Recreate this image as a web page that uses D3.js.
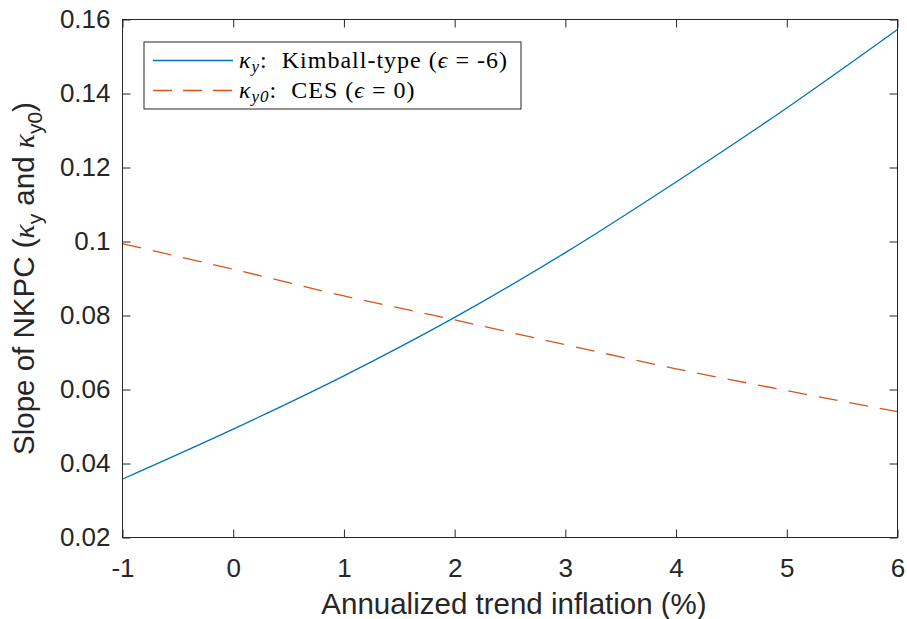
<!DOCTYPE html>
<html>
<head>
<meta charset="utf-8">
<script src="https://cdn.jsdelivr.net/npm/d3@7"></script>
<style>
  body { margin: 0; background: #fff; }
  svg { display: block; }
</style>
</head>
<body>
<div id="wrapper"></div>
<script>
// trend inflation (%) and NKPC slopes
const inflation = [-1, 0, 1, 2, 3, 4, 5, 6];
const kimball = [0.0358, 0.0493, 0.0637, 0.0795, 0.0970, 0.1161, 0.1361, 0.1573];
const ces = [0.0994, 0.0925, 0.0853, 0.0788, 0.0721, 0.0656, 0.0597, 0.0540];
const yTicks = [0.02, 0.04, 0.06, 0.08, 0.1, 0.12, 0.14, 0.16];

const W = 907, H = 619;
const margin = { top: 19.5, right: 9.5, bottom: 81.5, left: 122.5 };
const width = W - margin.left - margin.right;
const height = H - margin.top - margin.bottom;
const axisColor = `#262626`;
const tickLen = 8;
const sans = `"Liberation Sans", Arial, Helvetica, sans-serif`;
const serif = `"Liberation Serif", "Times New Roman", serif`;

const svg = d3.select(`#wrapper`)
  .append(`svg`)
  .attr(`width`, W)
  .attr(`height`, H)
  .append(`g`)
  .attr(`transform`, `translate(${margin.left}, ${margin.top})`);

const xScale = d3.scaleLinear().domain([-1, 6]).range([0, width]);
const yScale = d3.scaleLinear().domain([0.02, 0.16]).range([height, 0]);

// lines
const line = vals => d3.line()
  .x((d, i) => xScale(inflation[i]))
  .y(d => yScale(d))
  .curve(d3.curveMonotoneX)(vals);

svg.append(`path`)
  .attr(`d`, line(ces))
  .attr(`fill`, `none`)
  .attr(`stroke`, `#D95319`)
  .attr(`stroke-width`, 1.3)
  .attr(`stroke-dasharray`, `19,12`);

svg.append(`path`)
  .attr(`d`, line(kimball))
  .attr(`fill`, `none`)
  .attr(`stroke`, `#0072BD`)
  .attr(`stroke-width`, 1.3);

// axes (ticks inward, box on all sides)
const styleAxis = g => {
  g.select(`.domain`).remove();
  g.selectAll(`line`).attr(`stroke`, axisColor);
  g.selectAll(`text`)
    .attr(`fill`, axisColor)
    .style(`font-family`, sans)
    .style(`font-size`, `26px`);
};

svg.append(`g`)
  .attr(`transform`, `translate(0, ${height})`)
  .call(d3.axisBottom(xScale).tickValues(inflation).tickFormat(d => String(d))
    .tickSizeInner(-tickLen).tickSizeOuter(0).tickPadding(21))
  .call(styleAxis);

svg.append(`g`)
  .call(d3.axisTop(xScale).tickValues(inflation).tickFormat(``)
    .tickSizeInner(-tickLen).tickSizeOuter(0))
  .call(styleAxis);

svg.append(`g`)
  .call(d3.axisLeft(yScale).tickValues(yTicks).tickFormat(d => String(+d.toFixed(2)))
    .tickSizeInner(-tickLen).tickSizeOuter(0).tickPadding(12))
  .call(styleAxis);

svg.append(`g`)
  .attr(`transform`, `translate(${width}, 0)`)
  .call(d3.axisRight(yScale).tickValues(yTicks).tickFormat(``)
    .tickSizeInner(-tickLen).tickSizeOuter(0))
  .call(styleAxis);

svg.append(`rect`)
  .attr(`width`, width)
  .attr(`height`, height)
  .attr(`fill`, `none`)
  .attr(`stroke`, axisColor)
  .attr(`stroke-width`, 1);

// axis titles
svg.append(`text`)
  .attr(`x`, width / 2 + 4)
  .attr(`y`, height + 76)
  .attr(`text-anchor`, `middle`)
  .attr(`fill`, axisColor)
  .style(`font-family`, sans)
  .style(`font-size`, `29.5px`)
  .text(`Annualized trend inflation (%)`);

const yLab = svg.append(`text`)
  .attr(`transform`, `translate(${-89}, ${height / 2}) rotate(-90)`)
  .attr(`text-anchor`, `middle`)
  .attr(`fill`, axisColor)
  .style(`font-family`, sans)
  .style(`font-size`, `29.5px`);
yLab.append(`tspan`).text(`Slope of NKPC (`);
yLab.append(`tspan`).style(`font-family`, serif).style(`font-style`, `italic`).text(`κ`);
yLab.append(`tspan`).attr(`dy`, 8).style(`font-size`, `21px`).text(`y`);
yLab.append(`tspan`).attr(`dy`, -8).text(` and `);
yLab.append(`tspan`).style(`font-family`, serif).style(`font-style`, `italic`).text(`κ`);
yLab.append(`tspan`).attr(`dy`, 8).style(`font-size`, `21px`).text(`y0`);
yLab.append(`tspan`).attr(`dy`, -8).text(`)`);

// legend
const legend = svg.append(`g`)
  .attr(`transform`, `translate(${144 - margin.left}, ${42 - margin.top})`);

legend.append(`rect`)
  .attr(`width`, 377)
  .attr(`height`, 67)
  .attr(`fill`, `#fff`)
  .attr(`stroke`, axisColor)
  .attr(`stroke-width`, 1);

const entries = [
  { color: `#0072BD`, dash: null, sub: `y`, rest: `:  Kimball-type (`, eq: ` = -6)` },
  { color: `#D95319`, dash: `19,11`, sub: `y0`, rest: `:  CES (`, eq: ` = 0)` },
];

entries.forEach((e, i) => {
  const cy = 18.5 + i * 30;
  legend.append(`line`)
    .attr(`x1`, 9).attr(`x2`, 89)
    .attr(`y1`, cy).attr(`y2`, cy)
    .attr(`stroke`, e.color)
    .attr(`stroke-width`, 1.3)
    .attr(`stroke-dasharray`, e.dash);
  const t = legend.append(`text`)
    .attr(`x`, 95)
    .attr(`y`, cy + 7)
    .attr(`fill`, `#000`)
    .attr(`xml:space`, `preserve`)
    .style(`white-space`, `pre`)
    .style(`letter-spacing`, `1px`)
    .style(`font-family`, serif)
    .style(`font-size`, `24px`);
  t.append(`tspan`).style(`font-style`, `italic`).text(`κ`);
  t.append(`tspan`).attr(`dy`, 4).style(`font-size`, `17px`).style(`font-style`, `italic`).text(e.sub);
  t.append(`tspan`).attr(`dy`, -4).text(e.rest);
  t.append(`tspan`).style(`font-style`, `italic`).text(`ϵ`);
  t.append(`tspan`).text(e.eq);
});
</script>
</body>
</html>
